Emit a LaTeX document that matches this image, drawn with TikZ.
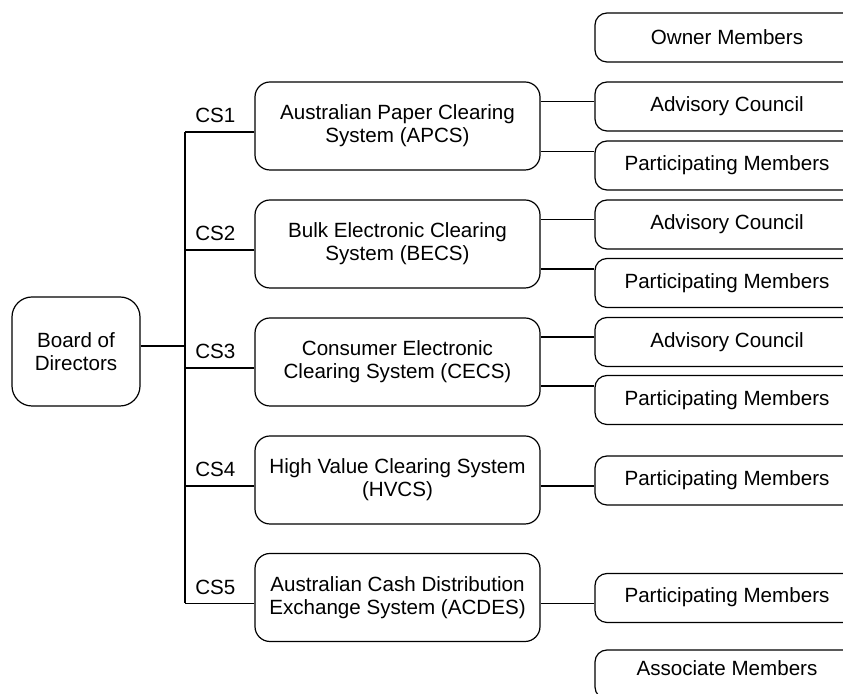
\documentclass[tikz,border=0pt]{standalone}
\usepackage{fontspec}
\setmainfont{Liberation Sans}
\usetikzlibrary{positioning}

\begin{document}
\begin{tikzpicture}[x=0.5pt, y=-0.5pt, line width=0.6pt,
    every node/.style={font=\fontsize{10.3}{11.5}\selectfont},
    boardbox/.style={draw, rounded corners=10pt, align=center, minimum width=64pt, minimum height=54.5pt},
    sysbox/.style={draw, rounded corners=7.5pt, align=center, minimum width=142.5pt, minimum height=44pt},
    memberbox/.style={draw, rounded corners=6pt, minimum width=132pt, minimum height=24.5pt},
    cslabel/.style={anchor=south west, xshift=1.5pt, yshift=1pt}]
    \clip (0,0) rectangle (843,694);

    \node[boardbox] (board) at (76,351.5) {Board of\\Directors};

    \node[sysbox] (apcs) at (397.5,126) {Australian Paper Clearing\\System (APCS)};
    \node[sysbox] (becs) at (397.5,244) {Bulk Electronic Clearing\\System (BECS)};
    \node[sysbox] (cecs) at (397.5,362) {Consumer Electronic\\Clearing System (CECS)};
    \node[sysbox] (hvcs) at (397.5,480) {High Value Clearing System\\(HVCS)};
    \node[sysbox] (acdes) at (397.5,597.5) {Australian Cash Distribution\\Exchange System (ACDES)};

    \node[memberbox] (owner) at (727,37.5) {Owner Members};
    \node[memberbox] (adv1) at (727,106.5) {Advisory Council};
    \node[memberbox] (part1) at (727,165.5) {Participating Members};
    \node[memberbox] (adv2) at (727,224.5) {Advisory Council};
    \node[memberbox] (part2) at (727,283) {Participating Members};
    \node[memberbox] (adv3) at (727,342) {Advisory Council};
    \node[memberbox] (part3) at (727,400) {Participating Members};
    \node[memberbox] (part4) at (727,480.5) {Participating Members};
    \node[memberbox, text depth=3pt] (part5) at (727,598) {Participating Members};
    \node[memberbox, text depth=6pt] (assoc) at (727,674.5) {Associate Members};

    % trunk from the board to the five clearing systems
    \coordinate (trunk) at (185,346);
    \draw ([yshift=2.75pt]board.east) -- ([yshift=2.75pt]board.east -| trunk);
    \draw ([yshift=-3pt]apcs.west -| trunk) -- ([yshift=-3pt]acdes.west -| trunk);
    \foreach \sys/\cs in {apcs/CS1, becs/CS2, cecs/CS3, hvcs/CS4, acdes/CS5}
        \draw ([yshift=-3pt]\sys.west) -- ([yshift=-3pt]\sys.west -| trunk) node[cslabel] {\cs};

    % systems to their members
    \foreach \sys/\adv/\part in {apcs/adv1/part1, becs/adv2/part2, cecs/adv3/part3} {
        \draw ([yshift=2.5pt]\adv.west) -- ([yshift=2.5pt]\adv.west -| \sys.east);
        \draw ([yshift=7pt]\part.west) -- ([yshift=7pt]\part.west -| \sys.east);
    }
    \draw ([yshift=-3pt]hvcs.east) -- ([yshift=-3pt]hvcs.east -| part4.west);
    \draw ([yshift=-3pt]acdes.east) -- ([yshift=-3pt]acdes.east -| part5.west);
\end{tikzpicture}
\end{document}
